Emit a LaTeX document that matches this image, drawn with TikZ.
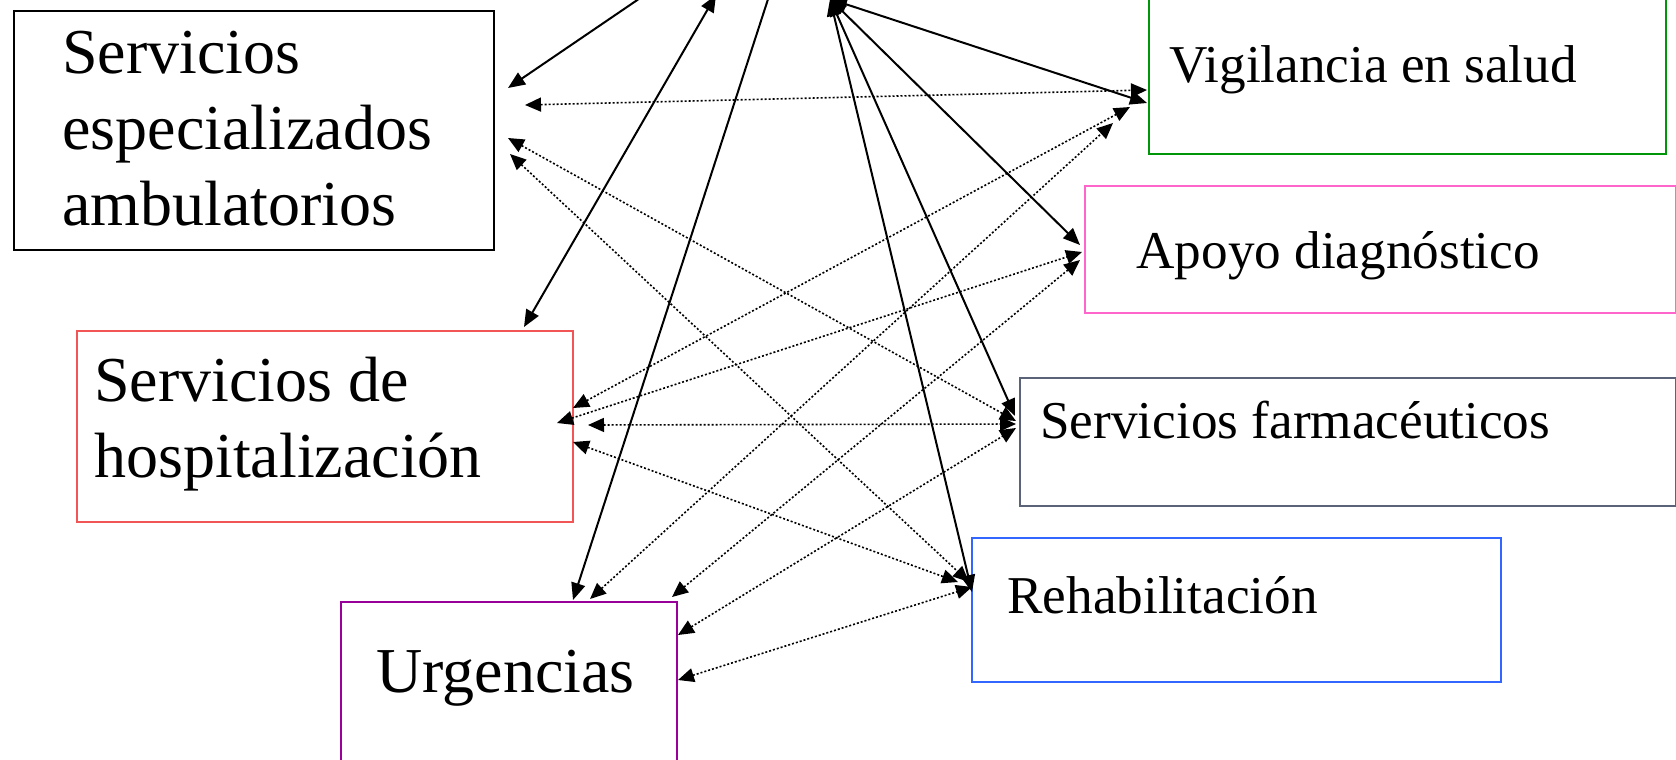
\documentclass[tikz,border=0pt]{standalone}
\usepackage{fontspec}
\setmainfont{Liberation Serif}
\usetikzlibrary{arrows.meta}
\begin{document}
\begin{tikzpicture}[x=0.5pt,y=-0.5pt,
  box/.style={draw=#1,line width=1pt,rectangle,inner sep=0pt,anchor=north west},
  bigtxt/.style={font=\fontsize{32}{38}\selectfont,anchor=base west,inner sep=0pt,align=left},
  smalltxt/.style={font=\fontsize{26.6}{31}\selectfont,anchor=base west,inner sep=0pt},
  solidto/.style={line width=1pt,-{Triangle[length=8.5pt,width=7pt]}},
  solidboth/.style={line width=1pt,{Triangle[length=8.5pt,width=7pt]}-{Triangle[length=8.5pt,width=7pt]}},
  dotboth/.style={line width=0.8pt,dash pattern=on 1pt off 1pt,{Triangle[length=8pt,width=7pt]}-{Triangle[length=8pt,width=7pt]}}]
\definecolor{hosred}{HTML}{F25555}
\definecolor{urgpurple}{HTML}{990099}
\definecolor{viggreen}{HTML}{00960A}
\definecolor{apopink}{HTML}{FF66CC}
\definecolor{farmslate}{HTML}{5A6378}
\definecolor{rehblue}{HTML}{3366FF}

\fill[white] (0,0) rectangle (1676,760);
\clip (0,0) rectangle (1676,760);

% service boxes
\node[box=black, minimum width=240pt, minimum height=119.5pt] (sea) at (13,10) {};
\node[box=hosred, minimum width=248pt, minimum height=95.5pt] (hos) at (76,330) {};
\node[box=urgpurple, minimum width=168pt, minimum height=100pt] (urg) at (340,601) {};
\node[box=viggreen, minimum width=258.5pt, minimum height=86.5pt] (vig) at (1148,-20) {};
\node[box=apopink, minimum width=295.5pt, minimum height=63.5pt] (apo) at (1084,185) {};
\node[box=farmslate, line width=1.2pt, minimum width=328pt, minimum height=64pt] (farm) at (1019,377) {};
\node[box=rehblue, minimum width=264.5pt, minimum height=72pt] (reh) at (971,537) {};

% labels (multi-line labels are placed by their last baseline)
\node[bigtxt] (sea-t) at (62,225) {Servicios\\especializados\\ambulatorios};
\node[bigtxt] (hos-t) at (94,477) {Servicios de\\hospitalización};
\node[bigtxt] (urg-t) at (376,692) {Urgencias};
\node[smalltxt] (vig-t) at (1169,82) {Vigilancia en salud};
\node[smalltxt] (apo-t) at (1136,268) {Apoyo diagnóstico};
\node[smalltxt] (farm-t) at (1040,438) {Servicios farmacéuticos};
\node[smalltxt] (reh-t) at (1007,613) {Rehabilitación};

% connector ends above the top edge
\coordinate (topA) at (652,-10);
\coordinate (topB) at (716,-5);
\coordinate (topC) at (771,-10);
\coordinate (hub) at (830,-1);

% connector ends next to the boxes
\coordinate (sea-s) at (508,88);
\coordinate (sea-1) at (525,105);
\coordinate (sea-2) at (508,138);
\coordinate (sea-3) at (510,154);
\coordinate (hos-s) at (524,327);
\coordinate (hos-1) at (573,408);
\coordinate (hos-2) at (557,423);
\coordinate (hos-3) at (588,425);
\coordinate (hos-4) at (573,442);
\coordinate (urg-s) at (573,600);
\coordinate (urg-1) at (590,599);
\coordinate (urg-2) at (672,597);
\coordinate (urg-3) at (678,635);
\coordinate (urg-4) at (678,680);
\coordinate (vig-1) at (1147,90);
\coordinate (vig-s) at (1147,103);
\coordinate (vig-2) at (1130,107);
\coordinate (vig-3) at (1113,123);
\coordinate (apo-s) at (1080,245);
\coordinate (apo-1) at (1082,252);
\coordinate (apo-2) at (1080,260);
\coordinate (farm-s) at (1015,416);
\coordinate (farm-1) at (1016,421);
\coordinate (farm-2) at (1016,424);
\coordinate (farm-3) at (1016,428);
\coordinate (reh-s) at (972,592);
\coordinate (reh-1) at (969,582);
\coordinate (reh-2) at (958,582);
\coordinate (reh-3) at (972,587);

% solid links
\draw[solidto] (topA) -- (sea-s);
\draw[solidboth] (topB) -- (hos-s);
\draw[solidto] (topC) -- (urg-s);
\draw[solidboth] (hub) -- (vig-s);
\draw[solidboth] (hub) -- (apo-s);
\draw[solidboth] (hub) -- (farm-s);
\draw[solidboth] (hub) -- (reh-s);

% dotted links
\draw[dotboth] (sea-1) -- (vig-1);
\draw[dotboth] (sea-2) -- (farm-1);
\draw[dotboth] (sea-3) -- (reh-1);
\draw[dotboth] (hos-1) -- (vig-2);
\draw[dotboth] (hos-2) -- (apo-1);
\draw[dotboth] (hos-3) -- (farm-2);
\draw[dotboth] (hos-4) -- (reh-2);
\draw[dotboth] (urg-1) -- (vig-3);
\draw[dotboth] (urg-2) -- (apo-2);
\draw[dotboth] (urg-3) -- (farm-3);
\draw[dotboth] (urg-4) -- (reh-3);
\end{tikzpicture}
\end{document}
